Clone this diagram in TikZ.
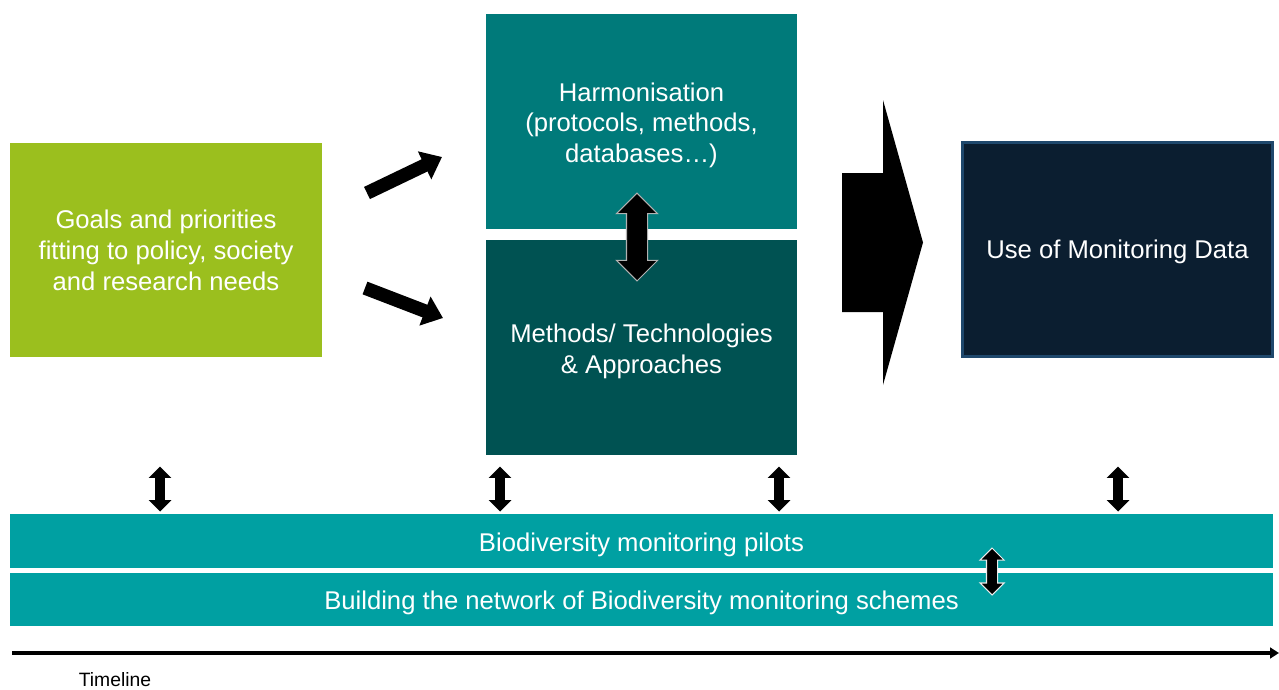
\documentclass[tikz,border=0pt]{standalone}
\usepackage{fontspec}
\setmainfont{Liberation Sans}
\usetikzlibrary{arrows.meta}
\usetikzlibrary{shapes.arrows}
\usepackage{xcolor}

\definecolor{goalgreen}{RGB}{155,191,30}
\definecolor{harmteal}{RGB}{0,122,122}
\definecolor{methteal}{RGB}{0,82,82}
\definecolor{barteal}{RGB}{0,160,162}
\definecolor{usenavy}{RGB}{11,30,48}
\definecolor{usedge}{RGB}{31,72,108}
\newcommand{\boxstrut}{\rule{0pt}{1.02em}}

\begin{document}
\begin{tikzpicture}[x=0.02cm,y=-0.02cm,
  box/.style={inner sep=0pt, text=white, align=center,
    font=\fontsize{14.6}{17.6}\selectfont},
  updown/.style={double arrow, rotate=90, fill=black, inner xsep=0pt,
    inner ysep=0.09cm, double arrow head extend=0.13cm,
    minimum height=0.9cm, minimum width=0pt},
  push/.style={line width=7.7pt, -{Triangle[length=11pt,width=17pt]}}]
\useasboundingbox (0,0) rectangle (1279,690);

% boxes
\node[box, fill=goalgreen, minimum width=6.24cm, minimum height=4.28cm] (goals) at (166,250)
  {Goals and priorities\\fitting to policy, society\\and research needs};
\node[box, fill=harmteal, minimum width=6.22cm, minimum height=4.3cm] (harm) at (641.5,121.5)
  {\boxstrut Harmonisation\\(protocols, methods,\\databases…)};
\node[box, fill=methteal, minimum width=6.22cm, minimum height=4.3cm] (meth) at (641.5,347.5)
  {\boxstrut Methods/ Technologies\\\& Approaches};
\node[box, fill=usenavy, draw=usedge, line width=1.2pt, minimum width=6.2cm, minimum height=4.28cm] (use) at (1117.5,249.5)
  {\rule{0pt}{0.9em}Use of Monitoring Data};

% bars
\node[box, fill=barteal, minimum width=25.26cm, minimum height=1.08cm] (pilots) at (641.5,541)
  {\boxstrut Biodiversity monitoring pilots};
\node[box, fill=barteal, minimum width=25.26cm, minimum height=1.06cm] (network) at (641.5,599.5)
  {\boxstrut Building the network of Biodiversity monitoring schemes};

% arrows from goals
\coordinate (up0) at (367,193);
\coordinate (up1) at (442,157);
\coordinate (dn0) at (365,288);
\coordinate (dn1) at (443,318);
\draw[push] (up0) -- (up1);
\draw[push] (dn0) -- (dn1);

% big arrow
\fill[black] (842,173) -- (883,173) -- (883,100) -- (923,242.5)
  -- (883,385) -- (883,312) -- (842,312) -- cycle;

% double arrows
\node[updown, draw=gray!60, line width=0.6pt, inner ysep=0.2cm, double arrow head extend=0.2cm,
  minimum height=1.76cm] (link) at (637,237) {};
\node[updown] (ud1) at (160,489) {};
\node[updown] (ud2) at (500,489) {};
\node[updown] (ud3) at (779,489) {};
\node[updown] (ud4) at (1118,489) {};
\node[updown, draw=white!85!gray, line width=0.6pt, inner ysep=0.1cm, double arrow head extend=0.13cm,
  minimum height=0.94cm] (ud5) at (992,571.5) {};

% timeline
\coordinate (tl0) at (12,653);
\coordinate (tl1) at (1279,653);
\draw[line width=2pt, -{Triangle[length=5pt,width=6pt]}] (tl0) -- (tl1);
\node[inner sep=0pt, font=\fontsize{11}{13}\selectfont] (tl) at (115,679.5) {Timeline};
\end{tikzpicture}
\end{document}
